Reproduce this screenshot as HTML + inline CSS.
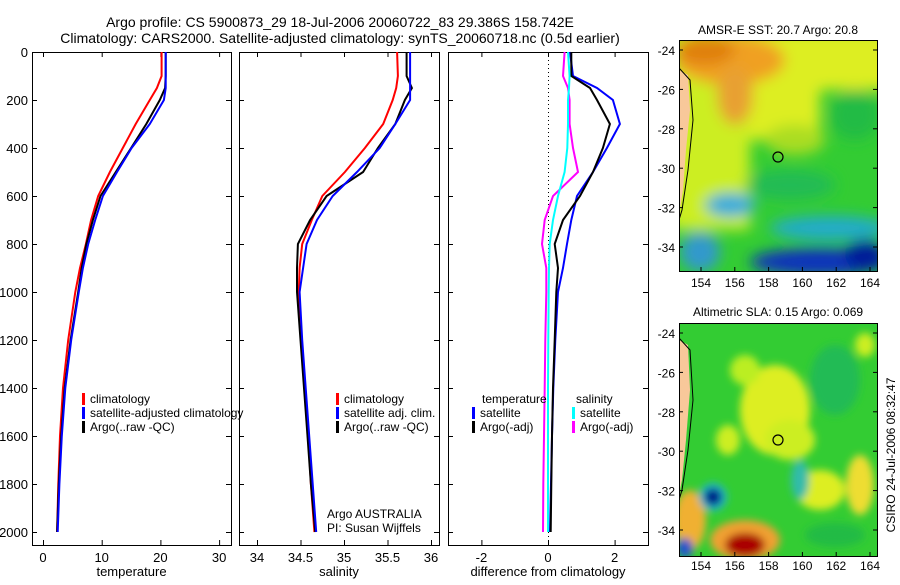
<!DOCTYPE html>
<html><head><meta charset="utf-8"><style>
body{margin:0;background:#fff;font-family:"Liberation Sans",sans-serif}
svg text{font-family:"Liberation Sans",sans-serif;fill:#000}
</style></head><body>
<svg id="c" width="900" height="580" viewBox="0 0 900 580">
<defs>
<filter id="bl" x="-50%" y="-50%" width="200%" height="200%"><feGaussianBlur stdDeviation="7"/></filter>
<filter id="bl2" x="-50%" y="-50%" width="200%" height="200%"><feGaussianBlur stdDeviation="4"/></filter>
<clipPath id="m1"><rect x="679" y="40" width="198" height="231"/></clipPath>
<clipPath id="m2"><rect x="679" y="323" width="198" height="233"/></clipPath>
</defs>
<text x="340" y="27" font-size="14" text-anchor="middle">Argo profile: CS 5900873_29 18-Jul-2006 20060722_83 29.386S 158.742E</text>
<text x="340" y="43" font-size="14" text-anchor="middle">Climatology: CARS2000. Satellite-adjusted climatology: synTS_20060718.nc (0.5d earlier)</text>

<g>
<text x="778" y="34" font-size="12" text-anchor="middle">AMSR-E SST: 20.7 Argo: 20.8</text>
<g clip-path="url(#m1)">
<rect x="679" y="40" width="198" height="231" fill="#33cc33"/>
<g filter="url(#bl)">
<rect x="670" y="30" width="230" height="60" fill="#ddee22"/>
<rect x="670" y="30" width="150" height="110" fill="#ddee22"/>
<rect x="670" y="30" width="80" height="200" fill="#ccee22"/>
<ellipse cx="730" cy="60" rx="55" ry="25" fill="#f0a020"/>
<ellipse cx="705" cy="50" rx="30" ry="15" fill="#e08010"/>
<ellipse cx="735" cy="95" rx="18" ry="30" fill="#e8a030"/>
<ellipse cx="795" cy="140" rx="30" ry="15" fill="#aadd22"/>
<ellipse cx="855" cy="115" rx="25" ry="25" fill="#22bb44"/>
<ellipse cx="730" cy="205" rx="25" ry="12" fill="#33aadd"/>
<ellipse cx="830" cy="228" rx="60" ry="12" fill="#22aacc"/>
<ellipse cx="820" cy="262" rx="70" ry="14" fill="#1133bb"/>
<ellipse cx="865" cy="255" rx="20" ry="15" fill="#001a99"/>
<ellipse cx="700" cy="252" rx="20" ry="20" fill="#3399cc"/>
<ellipse cx="790" cy="185" rx="45" ry="15" fill="#22bb55"/>
</g>
<path d="M679,70 L688,75 L690,110 L686,150 L683,190 L679,215 Z" fill="#f8c89a"/>
<path d="M679,68 L690,80 L693,120 L688,170 L682,210 L679,220" fill="none" stroke="#000" stroke-width="1"/>
<circle cx="778" cy="157" r="5" fill="none" stroke="#000" stroke-width="1.2"/>
</g>
<rect x="679.5" y="40.5" width="198" height="231" fill="none" stroke="#000"/>
</g>
<g>
<text x="778" y="316" font-size="12" text-anchor="middle">Altimetric SLA: 0.15 Argo: 0.069</text>
<g clip-path="url(#m2)">
<rect x="679" y="323" width="198" height="233" fill="#33cc33"/>
<g filter="url(#bl2)">
<ellipse cx="775" cy="410" rx="35" ry="45" fill="#ddee22"/>
<ellipse cx="790" cy="440" rx="25" ry="20" fill="#ccee22"/>
<ellipse cx="745" cy="370" rx="15" ry="15" fill="#bbee22"/>
<ellipse cx="728" cy="440" rx="12" ry="15" fill="#ccee22"/>
<ellipse cx="820" cy="490" rx="25" ry="20" fill="#ddee22"/>
<ellipse cx="860" cy="485" rx="14" ry="30" fill="#eedd33"/>
<ellipse cx="865" cy="345" rx="10" ry="12" fill="#ccee22"/>
<ellipse cx="690" cy="520" rx="16" ry="30" fill="#f0b030"/>
<ellipse cx="745" cy="540" rx="35" ry="20" fill="#f0a030"/>
<ellipse cx="745" cy="545" rx="20" ry="12" fill="#aa0000"/>
<ellipse cx="713" cy="497" rx="14" ry="14" fill="#22bbcc"/>
<ellipse cx="713" cy="497" rx="9" ry="9" fill="#001a88"/>
<ellipse cx="685" cy="548" rx="8" ry="10" fill="#2255cc"/>
<ellipse cx="835" cy="380" rx="25" ry="35" fill="#22bb55"/>
<ellipse cx="800" cy="480" rx="9" ry="20" fill="#33bbaa"/>
<ellipse cx="835" cy="535" rx="30" ry="12" fill="#22bb44"/>
</g>
<path d="M679,340 L688,345 L690,390 L686,440 L682,480 L679,495 Z" fill="#f8c89a"/>
<path d="M679,338 L690,350 L693,400 L688,450 L682,490 L679,500" fill="none" stroke="#000" stroke-width="1"/>
<circle cx="778" cy="440" r="5" fill="none" stroke="#000" stroke-width="1.2"/>
</g>
<rect x="679.5" y="323.5" width="198" height="233" fill="none" stroke="#000"/>
</g>
<text transform="translate(895,455) rotate(-90)" font-size="12" text-anchor="middle">CSIRO 24-Jul-2006 08:32:47</text>
<g id="g"></g>
</svg>
<script>
const depths=[0,100,150,200,300,400,500,600,700,800,900,1000,1200,1400,1600,1800,2000];
const tClim=[20.2,20.2,19.4,18.2,15.8,13.6,11.4,9.4,8.2,7.3,6.3,5.5,4.3,3.4,2.9,2.6,2.4];
const tSat=[20.9,20.9,20.9,20.6,18.2,15.1,12.6,10.2,8.9,7.7,6.8,6.1,4.8,3.8,3.2,2.8,2.5];
const tArgo=[20.9,20.9,20.8,19.9,17.6,15.0,12.4,9.8,8.5,7.4,6.6,6.0,4.7,3.7,3.1,2.7,2.4];
const sClim=[35.61,35.62,35.60,35.56,35.45,35.24,35.01,34.75,34.63,34.52,34.49,34.48,34.51,34.55,34.59,34.62,34.66];
const sSat=[35.76,35.76,35.76,35.76,35.59,35.41,35.15,34.87,34.69,34.57,34.53,34.49,34.52,34.56,34.60,34.64,34.68];
const sArgo=[35.72,35.72,35.78,35.70,35.59,35.39,35.22,34.80,34.61,34.47,34.46,34.46,34.50,34.54,34.58,34.62,34.67];
const dTSat=[0.66,0.75,1.47,1.95,2.16,1.77,1.35,0.87,0.7,0.57,0.45,0.3,0.22,0.16,0.12,0.09,0.06];
const dTArgo=[0.7,0.7,1.26,1.47,1.86,1.65,1.35,0.96,0.45,0.2,0.3,0.25,0.2,0.15,0.12,0.1,0.08];
const dSSat=[0.6,0.65,0.63,0.6,0.6,0.58,0.5,0.3,0.15,0.05,0.03,0.02,0.01,0.0,0.0,0.0,0.0];
const dSArgo=[0.5,0.45,0.6,0.65,0.65,0.75,0.9,0.15,-0.1,-0.18,-0.05,-0.05,-0.08,-0.1,-0.12,-0.14,-0.15];
const yTicks=[0,200,400,600,800,1000,1200,1400,1600,1800,2000];
const tTicks=[0,10,20,30], sTicks=[34,34.5,35,35.5,36], dTicks=[-2,0,2];
const latTicks=[-24,-26,-28,-30,-32,-34], lonTicks=[154,156,158,160,162,164];
const NS='http://www.w3.org/2000/svg', G=document.getElementById('g');
const y=d=>52+d*0.24;
function el(t,a,p){const e=document.createElementNS(NS,t);for(const k in a)e.setAttribute(k,a[k]);(p||G).appendChild(e);return e;}
const panels=[
 {x0:32,x1:231,sx:v=>43+v*5.87,ticks:tTicks,lab:'temperature',name:'temperature-panel'},
 {x0:239,x1:439,sx:v=>257+(v-34)*87,ticks:sTicks,lab:'salinity',name:'salinity-panel'},
 {x0:448,x1:648,sx:v=>548+v*33.3,ticks:dTicks,lab:'difference from climatology',name:'difference-panel'}];
panels.forEach((p,i)=>{
 const g=el('g',{});
 
 
 el('rect',{x:p.x0+.5,y:52.5,width:p.x1-p.x0,height:493,fill:'none',stroke:'#000'},g);
 yTicks.forEach(d=>{
  el('line',{x1:p.x0,x2:p.x0+5,y1:y(d)+.5,y2:y(d)+.5,stroke:'#000'},g);
  el('line',{x1:p.x1-5,x2:p.x1,y1:y(d)+.5,y2:y(d)+.5,stroke:'#000'},g);
  if(i==0){const t=el('text',{x:28,y:y(d)+5,'font-size':13,'text-anchor':'end'},g);t.textContent=d;
   }
 });
 p.ticks.forEach(v=>{const X=p.sx(v);
  el('line',{x1:X+.5,x2:X+.5,y1:52,y2:57,stroke:'#000'},g);
  el('line',{x1:X+.5,x2:X+.5,y1:540,y2:545,stroke:'#000'},g);
  const t=el('text',{x:X,y:562,'font-size':13,'text-anchor':'middle'},g);t.textContent=v;
  });
 const t=el('text',{x:(p.x0+p.x1)/2,y:576,'font-size':13,'text-anchor':'middle'},g);t.textContent=p.lab;
 
});
// map axes
[{top:40,bot:271,lat0:50,ly:287},{top:323,bot:556,lat0:333,ly:570}].forEach(m=>{
 latTicks.forEach((v,k)=>{const Y=m.lat0+(-24-v)*19.7;
  el('line',{x1:679,x2:683,y1:Y,y2:Y,stroke:'#000'});
  el('line',{x1:873,x2:877,y1:Y,y2:Y,stroke:'#000'});
  const t=el('text',{x:675,y:Y+5,'font-size':12,'text-anchor':'end'});t.textContent=v;
  });
 lonTicks.forEach(v=>{const X=701+(v-154)*16.9;
  el('line',{x1:X,x2:X,y1:m.bot-4,y2:m.bot,stroke:'#000'});
  const t=el('text',{x:X,y:m.ly,'font-size':12,'text-anchor':'middle'});t.textContent=v;
  });
});
el('line',{x1:548.5,x2:548.5,y1:52,y2:545,stroke:'#000','stroke-dasharray':'1,3'});
function line(p,vals,col,name){
 const pts=vals.map((v,k)=>p.sx(v).toFixed(1)+','+y(depths[k]).toFixed(1)).join(' ');
 const e=el('polyline',{points:pts,fill:'none',stroke:col,'stroke-width':2});
 
 
}
line(panels[0],tClim,'#f00','temp-climatology-line');
line(panels[0],tArgo,'#000','temp-argo-line');
line(panels[0],tSat,'#00f','temp-satellite-line');
line(panels[1],sClim,'#f00','sal-climatology-line');
line(panels[1],sArgo,'#000','sal-argo-line');
line(panels[1],sSat,'#00f','sal-satellite-line');
line(panels[2],dTSat,'#00f','diff-temp-satellite-line');
line(panels[2],dTArgo,'#000','diff-temp-argo-line');
line(panels[2],dSArgo,'#f0f','diff-sal-argo-line');
line(panels[2],dSSat,'#0ff','diff-sal-satellite-line');
function leg(x,yb,col,txt){
 const g=el('g',{});
 
 
 if(col)el('rect',{x:x,y:yb-10,width:3,height:12,fill:col},g);
 const t=el('text',{x:x+8,y:yb,'font-size':12},g);t.textContent=txt;
}
leg(82,403,'#f00','climatology');leg(82,417,'#00f','satellite-adjusted climatology');leg(82,431,'#000','Argo(..raw -QC)');
leg(336,403,'#f00','climatology');leg(336,417,'#00f','satellite adj. clim.');leg(336,431,'#000','Argo(..raw -QC)');
leg(474,403,null,'temperature');leg(472,417,'#00f','satellite');leg(472,431,'#000','Argo(-adj)');
leg(568,403,null,'salinity');leg(572,417,'#0ff','satellite');leg(572,431,'#f0f','Argo(-adj)');
const a=el('text',{x:327,y:518,'font-size':12});a.textContent='Argo AUSTRALIA';

const b=el('text',{x:327,y:532,'font-size':12});b.textContent='PI: Susan Wijffels';

</script>
</body></html>
